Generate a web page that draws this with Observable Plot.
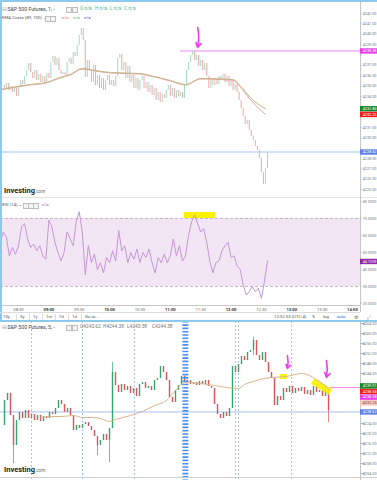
<!DOCTYPE html>
<html><head><meta charset="utf-8">
<script src="https://cdn.jsdelivr.net/npm/d3@7"></script>
<script src="https://cdn.jsdelivr.net/npm/@observablehq/plot@0.6"></script>
<style>
body{margin:0;background:#fff;}
#wrap{position:relative;width:377px;height:480px;overflow:hidden;background:#fff;font-family:Roboto,"Liberation Sans",sans-serif;}
#wrap svg{position:absolute;left:0;overflow:visible;}
</style></head>
<body><div id="wrap"></div>
<script>
// ---------------- DATA ----------------
// Top chart: S&P 500 Futures, 1-minute (closes sampled every 2 minutes)
const topStart = "08:14";
const topStepMin = 2;
const topCloses = [
4235.04, 4234.75, 4235.24, 4234.56, 4234.95, 4234.37, 4234.75, 4233.98, 4234.85, 4235.53,
4235.14, 4235.91, 4236.49, 4237.17, 4236.30, 4235.72, 4236.49, 4235.53, 4236.11, 4235.33,
4235.91, 4235.24, 4236.20, 4235.72, 4237.27, 4237.85, 4236.98, 4237.65, 4236.49, 4236.11,
4236.30, 4236.01, 4237.27, 4237.65, 4237.07, 4238.23, 4237.85, 4238.91, 4239.87, 4240.55,
4239.39, 4235.82, 4237.46, 4236.49, 4235.33, 4236.98, 4235.04, 4236.01, 4234.75, 4235.72,
4234.56, 4235.53, 4236.01, 4235.04, 4235.53, 4234.95, 4235.91, 4237.65, 4238.04, 4236.49,
4237.27, 4235.72, 4236.88, 4235.33, 4236.01, 4234.75, 4235.72, 4234.56, 4235.53, 4235.91,
4234.75, 4235.33, 4234.37, 4235.04, 4234.08, 4234.75, 4233.59, 4234.37, 4233.40, 4234.17,
4233.79, 4234.56, 4235.04, 4233.98, 4234.75, 4233.79, 4234.56, 4233.98, 4234.37, 4233.79,
4235.04, 4236.49, 4237.27, 4237.94, 4238.33, 4237.46, 4237.94, 4236.88, 4237.46, 4236.49,
4237.17, 4235.91, 4234.75, 4235.53, 4235.04, 4235.72, 4235.14, 4235.91, 4235.53, 4236.11,
4235.33, 4235.91, 4234.95, 4235.53, 4234.56, 4235.14, 4234.37, 4233.59, 4232.82, 4232.05,
4231.27, 4231.66, 4230.70, 4230.12, 4229.73, 4229.15, 4228.76, 4227.99, 4226.64, 4225.48,
4227.02, 4228.47];
const emaTimes = ["08:12","08:41","08:57","09:11","09:21","09:33","09:46","10:01","10:30","10:40","11:00","11:15","11:30","12:02","12:09","12:19","12:34"];
const emaGreen = [4234.66,4235.14,4235.33,4235.82,4236.11,4236.69,4236.49,4236.30,4236.20,4236.01,4235.53,4235.14,4235.72,4235.62,4235.04,4233.88,4232.80];
const emaRed   = [4234.61,4235.09,4235.28,4235.77,4236.06,4236.63,4236.44,4236.25,4236.15,4235.96,4235.48,4235.09,4235.67,4235.55,4234.92,4233.68,4232.25];
const topCrossTimes = ["08:41","10:30","11:30","12:02"];
const topCrossValues = [4235.14, 4236.20, 4235.72, 4235.62];
const topTicks = [4225,4226,4227,4228,4229,4230,4231,4232,4233,4234,4235,4236,4237,4238,4239,4240,4241,4242];
const topLabelValues = [4238.38, 4232.80, 4232.25, 4228.62];
const highLevel = 4238.38, highLevelFrom = "11:10";
const lastPrice = 4228.62;
const topArrowTime = "11:27", topArrowFrom = 4240.65, topArrowTo = 4238.71;

// RSI (14), sampled every 3 minutes
const rsiStart = "08:12";
const rsiStepMin = 3;
const rsiValues = [
56,62,59,48,53,49,54,65,67,58,
53,55,51,54,48,46,69,65,56,50,
45,50,62,58,54,68,74,62,37,54,
44,49,40,44,38,47,44,51,45,63,
51,54,44,50,46,52,44,50,47,52,
44,38,47,44,49,44,48,58,48,54,
45,48,60,68,72,67,62,64,56,45,
38,44,45,51,54,56,47,48,42,40,
31,25,27,30,27,29,23,33,45];
const rsiTicks = [20,30,40,50,60,70,80];
const rsiBand = [30, 70];
const rsiLast = 44.7259;
const rsiMarkFrom = "11:14", rsiMarkTo = "11:45", rsiMarkLow = 70, rsiMarkHigh = 73.5;
const timeTicks = ["08:30","09:00","09:30","10:00","10:30","11:00","11:30","12:00","12:30","13:00","13:30","14:00"];

// Bottom chart: S&P 500 Futures, 5-minute (closes per bar index)
const bottomCloses = [
4223.2,4233.2,4236.0,4227.2,4215.2,4225.2,4228.4,4226.0,4229.2,4226.0,
4227.6,4225.2,4227.2,4224.8,4226.8,4226.0,4228.4,4227.6,4230.0,4233.2,
4231.6,4228.4,4230.0,4227.2,4221.2,4223.2,4222.0,4223.6,4224.4,4222.8,
4221.2,4218.8,4215.2,4217.2,4219.6,4217.2,4222.0,4244.4,4239.2,4236.4,
4239.6,4237.2,4238.8,4236.0,4238.0,4234.8,4239.6,4240.4,4238.0,4238.8,
4237.2,4241.2,4242.0,4246.8,4244.4,4241.2,4234.4,4232.4,4237.2,4239.2,
4242.8,4240.4,4241.2,4239.6,4240.4,4239.2,4240.8,4239.6,4241.2,4238.8,
4238.0,4231.6,4227.6,4226.0,4228.4,4226.8,4230.0,4246.8,4244.4,4247.6,
4250.8,4249.2,4252.4,4253.2,4257.2,4251.2,4249.2,4252.4,4248.4,4244.4,
4242.0,4231.2,4234.8,4233.2,4238.0,4236.4,4238.8,4236.0,4238.0,4236.8,
4238.4,4235.6,4237.2,4235.2,4238.8,4236.4,4237.2,4234.8,4238.0,4229.2];
const bottomWickIdx  = [4, 32, 36, 37, 84, 109];
const bottomWickLow  = [4208.0, 4211.2, 4208.4, 4222.0, 4251.2, 4224.4];
const bottomWickHigh = [4227.2, 4218.8, 4222.0, 4248.4, 4258.4, 4238.0];
const bottomEmaIdx = [13,16,20,24,27,30,33,36,38,43,47,51,55,58,61,66,71,75,79,81,84,86,90,95,100,105,109];
const bottomEmaVal = [4226.4,4226.8,4226.8,4227.2,4226.4,4226.4,4226.0,4224.8,4225.6,4227.2,4228.8,4231.2,4233.2,4237.2,4240.4,4240.0,4239.2,4238.4,4238.0,4239.6,4240.8,4241.6,4242.4,4242.8,4244.0,4241.6,4238.0];
const bottomCrossIdx = [16,20,23,24,27,29,30,31,32,37,38,47,61,62,65,71,73,75,79,83,85,101];
const bottomCrossVal = [4226.8,4226.8,4227.2,4227.2,4226.4,4226.4,4226.4,4226.0,4226.0,4225.0,4225.6,4228.8,4240.4,4240.4,4240.0,4239.2,4238.8,4238.4,4238.0,4240.8,4241.2,4244.0];
const bottomTicks = [4204,4208,4212,4216,4220,4224,4228,4232,4236,4240,4244,4248,4252,4256,4260,4264];
const bottomLabelValues = [4239.01, 4238.58, 4238.38, 4232.25, 4228.62];
const sessionLines = [10, 27, 44.3, 78, 79, 96.7];
const focusBar = 61.3;
const bottomHighFrom = 109.7;
const bottomMarkRect = {i1: 93, i2: 95.3, v1: 4241.6, v2: 4243.6};
const bottomMarkBandIdx = [103.7, 109.7];
const bottomMarkBandVal = [4241.0, 4236.6];
const bottomArrowIdx = [95.3, 108.3];
const bottomArrowFrom = [4251.2, 4249.2];
const bottomArrowTo = [4246.0, 4242.4];

// ---------------- STYLE / LAYOUT ----------------
const UP_LIGHT = "#a6dec4", DOWN_LIGHT = "#f5a9ae";
const UP = "#34a56f", DOWN = "#e0525a";
const CROSS = "#3b3c9c";
const MAGENTA = "#f23cf0";
const AXIS = "#c6c6c6", TICKTXT = "#7a7a7a";
const topLabelFill = ["#e83ee8", "#17882a", "#f21c1c", "#5b80e6"];
const topLabelInk = ["#fff","#fff","#fff","#fff"];
const bottomLabelFill = ["#17882a", "#f21c1c", "#e83ee8", "#f5c5b8", "#5b80e6"];
const bottomLabelInk = ["#fff","#fff","#fff","#844","#fff"];

const toMin = s => { const [h, m] = s.split(":"); return +h * 60 + +m; };
const fmtTime = m => String(Math.floor(m / 60)).padStart(2, "0") + ":" + String(m % 60).padStart(2, "0");

const TOP_X = {domain: [492.2, 864.7], range: [0, 377]};
const TOP_AXIS = 847.9;
const TOP_Y = {domain: [4224.42, 4243.06], range: [195, 2]};
const RSI_Y = {domain: [18.82, 82.35], range: [109, 1]};
const BOT_X = {domain: [-1/3, 125.33], range: [0, 377]};
const BOT_AXIS = 119.67;
const BOT_Y = {domain: [4201.2, 4264.8], range: [159, 0]};

function stackLabels(values, fills, inks, ys, gap) {
  const s = d3.scaleLinear(ys.domain, ys.range);
  const arr = values.map((v, i) => ({value: v, fill: fills[i], ink: inks[i], py: s(v)})).sort((a, b) => a.py - b.py);
  for (let i = 1; i < arr.length; i++) if (arr[i].py < arr[i - 1].py + gap) arr[i].py = arr[i - 1].py + gap;
  return arr.map(d => ({...d, at: s.invert(d.py)}));
}
function axisMarks(ticks, edge, xmax, fmt, labels, ys) {
  const s = d3.scaleLinear(ys.domain, ys.range);
  const shown = ticks.filter(t => labels.every(l => Math.abs(s(t) - l.py) > 5));
  return [
    Plot.ruleX([edge], {stroke: AXIS, strokeWidth: 1}),
    Plot.ruleY(ticks, {y: d => d, x1: edge, x2: edge + 1.5, stroke: "#bbb"}),
    Plot.text(shown, {x: edge, y: d => d, text: fmt, dx: 2.2, textAnchor: "start", fontSize: 3.8, fill: TICKTXT}),
    Plot.ruleY(labels, {y: "at", x1: edge, x2: xmax, stroke: d => d.fill, strokeWidth: 5.4}),
    Plot.text(labels, {x: edge, y: "at", text: d => fmt(d.value), dx: 2.2, textAnchor: "start", fontSize: 3.8, fill: d => d.ink})
  ];
}
const baseStyle = {background: "transparent", fontFamily: "Roboto, sans-serif", overflow: "visible"};
const wrap = document.getElementById("wrap");
function put(svg, top) { svg.style.top = top + "px"; wrap.appendChild(svg); }
function txt(x, y, text, size, color, weight) {
  const d = document.createElement("div");
  d.textContent = text;
  Object.assign(d.style, {position: "absolute", left: x + "px", top: (y - size * 0.6) + "px", fontSize: size + "px",
    lineHeight: (size * 1.2) + "px", color, fontWeight: weight || "normal", whiteSpace: "nowrap", zIndex: 5});
  wrap.appendChild(d); return d;
}
function box(x, y, s) {
  const d = document.createElement("div");
  Object.assign(d.style, {position: "absolute", left: x + "px", top: y + "px", width: s + "px", height: s + "px",
    border: "0.6px solid #bdbdbd", background: "#f4f4f4", zIndex: 5});
  wrap.appendChild(d);
}
function hline(x, y, w, h, color) {
  const d = document.createElement("div");
  Object.assign(d.style, {position: "absolute", left: x + "px", top: y + "px", width: w + "px", height: h + "px", background: color, zIndex: 6});
  wrap.appendChild(d);
}

// ---------------- TOP PRICE PANEL ----------------
const topData = topCloses.map((c, i) => ({t: toMin(topStart) + i * topStepMin, o: i ? topCloses[i - 1] : c, c}));
const topEma = emaTimes.map((s, i) => ({t: toMin(s), g: emaGreen[i], r: emaRed[i]}));
const topCross = topCrossTimes.map((s, i) => ({t: toMin(s), v: topCrossValues[i]}));
const topLabels = stackLabels(topLabelValues, topLabelFill, topLabelInk, TOP_Y, 5.6);

put(Plot.plot({
  width: 377, height: 196, margin: 0, style: baseStyle,
  x: {...TOP_X, axis: null}, y: {...TOP_Y, axis: null}, color: {type: "identity"},
  marks: [
    Plot.ruleY([lastPrice], {x1: TOP_X.domain[0], x2: TOP_AXIS, stroke: "#a9c1f3"}),
    Plot.ruleY([highLevel], {x1: toMin(highLevelFrom), x2: TOP_AXIS, stroke: "#f285f2"}),
    Plot.ruleX(topData, {x: "t", y1: "o", y2: "c", stroke: d => d.c >= d.o ? UP_LIGHT : DOWN_LIGHT, strokeWidth: 1.05}),
    Plot.line(topEma, {x: "t", y: "r", stroke: "#eea59c", strokeWidth: 1, curve: "monotone-x"}),
    Plot.line(topEma, {x: "t", y: "g", stroke: "#bfb98c", strokeWidth: 1, curve: "monotone-x"}),
    Plot.dot(topCross, {x: "t", y: "v", symbol: "plus", r: 2.4, fill: CROSS}),
    Plot.arrow([{t: toMin(topArrowTime), a: topArrowFrom, b: topArrowTo}], {x1: "t", x2: "t", y1: "a", y2: "b", bend: 12, headLength: 5, stroke: MAGENTA, strokeWidth: 1.6}),
    ...axisMarks(topTicks, TOP_AXIS, TOP_X.domain[1], d => d.toFixed(2), topLabels, TOP_Y)
  ]
}), 0);

// ---------------- RSI PANEL ----------------
const rsiData = rsiValues.map((v, i) => ({t: toMin(rsiStart) + i * rsiStepMin, v}));
const rsiLabels = stackLabels([rsiLast], ["#8e2aa6"], ["#fff"], RSI_Y, 5.6);
const tMins = timeTicks.map(toMin);
put(Plot.plot({
  width: 377, height: 116, margin: 0, style: baseStyle,
  x: {...TOP_X, axis: null}, y: {...RSI_Y, axis: null}, color: {type: "identity"},
  marks: [
    Plot.ruleY([RSI_Y.domain[1]], {x1: TOP_X.domain[0], x2: TOP_X.domain[1], stroke: "#e4e4e4"}),
    Plot.rect([{}], {x1: TOP_X.domain[0], x2: TOP_AXIS, y1: rsiBand[0], y2: rsiBand[1], fill: "#f3e6f4"}),
    Plot.ruleY(rsiBand, {x1: TOP_X.domain[0], x2: TOP_AXIS, stroke: "#b9a6bb", strokeDasharray: "3,2", strokeWidth: 0.8}),
    Plot.rect([{}], {x1: toMin(rsiMarkFrom), x2: toMin(rsiMarkTo), y1: rsiMarkLow, y2: rsiMarkHigh, fill: "#f8f100"}),
    Plot.line(rsiData, {x: "t", y: "v", stroke: "#c596d7", strokeWidth: 1}),
    Plot.ruleY([RSI_Y.domain[0]], {x1: TOP_X.domain[0], x2: TOP_AXIS, stroke: AXIS}),
    Plot.text(tMins.filter(m => m % 60), {x: d => d, y: RSI_Y.domain[0], dy: 4.5, text: fmtTime, fontSize: 4.2, fill: "#666"}),
    Plot.text(tMins.filter(m => m % 60 === 0), {x: d => d, y: RSI_Y.domain[0], dy: 4.5, text: fmtTime, fontSize: 4.2, fill: "#333", fontWeight: "bold"}),
    ...axisMarks(rsiTicks, TOP_AXIS, TOP_X.domain[1], d => d.toFixed(4), rsiLabels, RSI_Y)
  ]
}), 196);

// ---------------- BOTTOM PRICE PANEL ----------------
const botData = bottomCloses.map((c, i) => ({i, o: i ? bottomCloses[i - 1] : c, c}));
const botWicks = bottomWickIdx.map((i, k) => ({i, lo: bottomWickLow[k], hi: bottomWickHigh[k], up: bottomCloses[i] >= (i ? bottomCloses[i - 1] : bottomCloses[i])}));
const botEma = bottomEmaIdx.map((i, k) => ({i, v: bottomEmaVal[k]}));
const botCross = bottomCrossIdx.map((i, k) => ({i, v: bottomCrossVal[k]}));
const botLabels = stackLabels(bottomLabelValues, bottomLabelFill, bottomLabelInk, BOT_Y, 5.6);
const botArrows = bottomArrowIdx.map((i, k) => ({i, a: bottomArrowFrom[k], b: bottomArrowTo[k]}));
const botBand = bottomMarkBandIdx.map((i, k) => ({i, v: bottomMarkBandVal[k]}));

put(Plot.plot({
  width: 377, height: 159, margin: 0, style: baseStyle,
  x: {...BOT_X, axis: null}, y: {...BOT_Y, axis: null}, color: {type: "identity"},
  marks: [
    Plot.ruleX(sessionLines, {x: d => d, stroke: "#8fb0ee", strokeDasharray: "2,2", strokeWidth: 0.8}),
    Plot.ruleY([lastPrice], {x1: BOT_X.domain[0], x2: BOT_AXIS, stroke: "#a9c1f3"}),
    Plot.ruleY([highLevel], {x1: bottomHighFrom, x2: BOT_AXIS, stroke: "#f285f2"}),
    Plot.ruleX(botWicks, {x: "i", y1: "lo", y2: "hi", stroke: d => d.up ? UP : DOWN, strokeWidth: 0.7}),
    Plot.ruleX(botData, {x: "i", y1: "o", y2: "c", stroke: d => d.c >= d.o ? UP : DOWN, strokeWidth: 1.4}),
    Plot.rect([bottomMarkRect], {x1: "i1", x2: "i2", y1: "v1", y2: "v2", fill: "#f8f100", fillOpacity: 0.9}),
    Plot.line(botBand, {x: "i", y: "v", stroke: "#f8f100", strokeWidth: 6.5, strokeOpacity: 0.9, strokeLinecap: "butt"}),
    Plot.line(botEma, {x: "i", y: "v", stroke: "#d9b48e", strokeWidth: 1, curve: "monotone-x"}),
    Plot.dot(botCross, {x: "i", y: "v", symbol: "plus", r: 2.4, fill: CROSS}),
    Plot.ruleX([focusBar], {x: d => d, stroke: "#4d8ff5", strokeWidth: 6, strokeDasharray: "1.6,1.7"}),
    Plot.arrow(botArrows, {x1: "i", x2: "i", y1: "a", y2: "b", bend: 12, headLength: 5, stroke: MAGENTA, strokeWidth: 1.6}),
    Plot.ruleY([BOT_Y.domain[0] + 1.2], {x1: BOT_X.domain[0], x2: BOT_X.domain[1], stroke: "#d0d0d0"}),
    ...axisMarks(bottomTicks, BOT_AXIS, BOT_X.domain[1], d => d.toFixed(2), botLabels, BOT_Y)
  ]
}), 321);

// ---------------- TEXT / CHROME ----------------
hline(0, 0, 377, 1.5, "#8ccaec");
hline(0, 0, 1.5, 320, "#8ccaec");
hline(0, 320, 377, 1.5, "#8ccaec");
hline(0, 311.5, 360, 0.6, "#dcdcdc");

// top header
txt(2, 9, "⊟", 6, "#999");
txt(7.5, 9, "S&P 500 Futures, 1, -", 5.2, "#444");
box(66, 6.5, 4); box(71.5, 6.5, 4);
[["O n/a", 80], ["H n/a", 95], ["L n/a", 110], ["C n/a", 124]].forEach(([s, x]) => txt(x, 9, s, 4.8, "#53b485"));
txt(2, 18, "EMA Cross (89, 100) ~", 4.4, "#555");
box(45, 16, 3.5); box(50, 16, 3.5);
txt(62, 18, "n/a", 4.4, "#f06a6a"); txt(73, 18, "n/a", 4.4, "#4fb07f"); txt(84, 18, "n/a", 4.4, "#4f45c4");

// RSI header
txt(2, 205, "RSI (14) ~", 4.4, "#555");
box(23, 203, 3.5); box(28, 203, 3.5); box(33, 203, 3.5);
txt(42, 205, "n/a", 4.4, "#a15fc2");

// toolbar
[["10y", 3], ["3y", 20], ["1y", 33], ["1m", 46], ["7d", 59], ["1d", 72], ["Go to...", 85]].forEach(([s, x]) => txt(x, 317, s, 4.3, "#555"));
[16, 29, 42, 55, 68, 81].forEach(x => hline(x, 314, 0.5, 6, "#ddd"));
txt(274, 317, "12:32:33 (UTC-4)", 4.3, "#555");
txt(312, 317, "%", 4.3, "#555");
txt(323, 317, "log", 4.3, "#555");
txt(337, 317, "auto", 4.3, "#2d6cf0");
txt(354, 317, "⚙", 5, "#666");
txt(367, 317, "⤢", 5, "#666");

// bottom header
txt(2, 327, "⊟", 6, "#999");
txt(7.5, 327, "S&P 500 Futures, 5, -", 5.2, "#444");
box(66, 324.5, 4); box(71.5, 324.5, 4);
[["O4243.62", 80], ["H4244.38", 103], ["L4243.38", 127], ["C4244.38", 152]].forEach(([s, x]) => txt(x, 327, s, 4.8, "#777"));

// watermarks
function mark(x, y) {
  const d = txt(x, y, "", 7.5, "#1e1e1e", "bold");
  d.innerHTML = 'Investing<span style="font-size:4.5px;font-weight:normal;color:#666">.com</span>';
}
mark(4, 190);
mark(4, 469);
</script>
</body></html>
